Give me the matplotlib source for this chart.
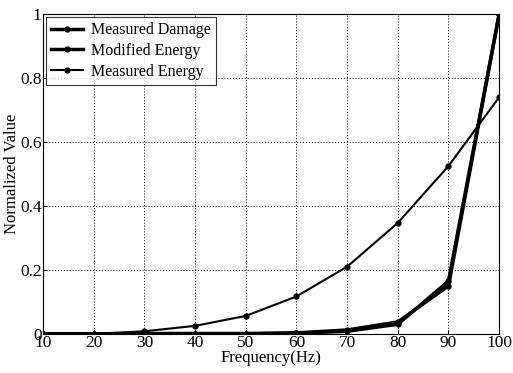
import matplotlib
matplotlib.use('Agg')
import matplotlib.pyplot as plt

freq = [10, 20, 30, 40, 50, 60, 70, 80, 90, 100]
measured_damage = [0.0, 0.0, 0.0, 0.0, 0.0, 0.002, 0.008, 0.03, 0.165, 1.0]
modified_energy = [0.0, 0.0, 0.001, 0.001, 0.001, 0.003, 0.012, 0.037, 0.15, 1.0]
measured_energy = [0.0, 0.0, 0.008, 0.025, 0.056, 0.117, 0.21, 0.347, 0.525, 0.74]

plt.rcParams['font.family'] = ['Liberation Serif', 'DejaVu Serif']

fig = plt.figure(figsize=(5.13, 3.73), dpi=100)
ax = fig.add_axes([0.084, 0.105, 0.889, 0.857])

ax.plot(freq, measured_damage, color='black', lw=2.5, marker='o', ms=3.5, label='Measured Damage')
ax.plot(freq, modified_energy, color='black', lw=2.5, marker='o', ms=3.5, label='Modified Energy')
ax.plot(freq, measured_energy, color='black', lw=1.5, marker='o', ms=3.5, label='Measured Energy')

ax.set_xlim(10, 100)
ax.set_ylim(0, 1)
ax.set_xticks(freq)
ax.set_yticks([0, 0.2, 0.4, 0.6, 0.8, 1.0])
ax.set_yticklabels(['0', '0.2', '0.4', '0.6', '0.8', '1'])
ax.tick_params(direction='in', length=3, labelsize=12.5, pad=1)
ax.grid(True, color='black', linestyle=(0, (1, 2)), linewidth=0.7)
ax.set_xlabel('Frequency(Hz)', fontsize=12, labelpad=-1)
ax.set_ylabel('Normalized Value', fontsize=12, labelpad=0)

leg = ax.legend(loc='upper left', fontsize=11.5, fancybox=False, edgecolor='black',
                handlelength=2.0, borderpad=0.3, labelspacing=0.3, borderaxespad=0.2,
                handletextpad=0.5)
leg.get_frame().set_linewidth(0.8)

fig.savefig('out.png', dpi=100)
